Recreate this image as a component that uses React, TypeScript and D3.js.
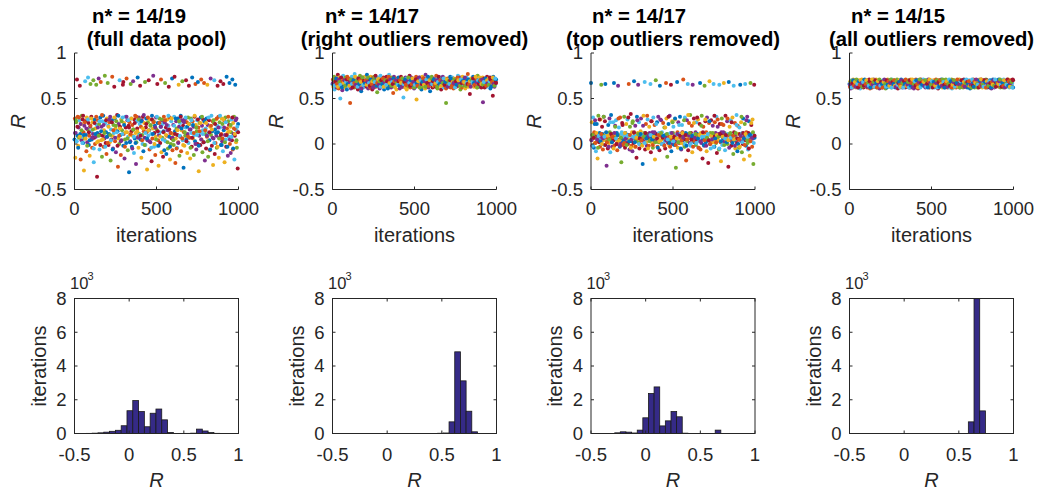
import React from "react";
import * as d3 from "d3";

const W = 1038;
const H = 494;
const COLORS = ["#0072BD", "#D95319", "#EDB120", "#7E2F8E", "#77AC30", "#4DBEEE", "#A2142F"];
const FONT = "'Liberation Sans', Arial, Helvetica, sans-serif";
const AX = "#262626";

const titleLine1 = ["n* = 14/19", "n* = 14/17", "n* = 14/17", "n* = 14/15"];
const titleLine2 = ["(full data pool)", "(right outliers removed)", "(top outliers removed)", "(all outliers removed)"];
const rTicks = [-0.5, 0, 0.5, 1];
const iterTicks = [0, 500, 1000];
const countTicks = [0, 2, 4, 6, 8]; // ×10^3

// Scatter: R × 100, sampled iterations in order (two sampling runs per panel)
const scatterFull = [
  5, 28, -15, 12, 24, 3, 71, 9, 30, -2, 18, 7, 26, 64, 11, -17, 22, 4, 31, 8,
  27, 1, 13, -29, 20, 6, 69, 25, 10, -8, 29, 2, 16, 73, 23, -1, 9, -13, 19, 66,
  14, 30, 5, -4, 24, 11, 70, -20, 7, 27, 0, 17, 8, 65, 21, -36, 12, 26, 3, 72,
  22, -6, 10, 29, 68, 4, 19, -14, 25, 9, 31, -3, 15, 6, 75, 23, 1, 13, -11, 28,
  8, 67, 20, -1, 11, 24, 2, 30, -18, 16, 5, 26, 74, 9, -5, 21, 12, 63, 28, 3,
  17, -9, 25, 7, 32, 14, -25, 6, 22, 0, 70, 19, 10, -12, 27, 4, 15, 29, 65, -2,
  11, 23, -16, 5, 30, 18, 1, 72, 13, 26, -7, 8, 20, -31, 24, 10, 3, 66, 28, 14,
  -3, 21, 9, 69, 16, -10, 27, 6, 31, 12, -22, 2, 25, 17, 73, 8, -4, 29, 11, 22,
  64, 5, 19, -15, 26, 10, 0, 30, -8, 14, 23, 7, 68, -1, 18, 28, 13, -28, 4, 24,
  9, 70, 15, -6, 27, 2, 21, 11, -19, 31, 6, 17, 75, 25, -3, 12, 20, -12, 8, 29,
  16, -2, 66, 23, 4, -24, 10, 28, 13, 1, 19, 71, -9, 26, 7, 22, -14, 14, 30, 5,
  24, 67, 3, 18, -11, 9, 27, 15, -5, 20, 63, 8, 29, -17, 12, 0, 25, 6, 72, -7,
  11, 21, -1, 30, 74, 14, -21, 6, 25, 17, -4, 10, 28, 2, 65, 19, -13, 23, 8, 31,
  -8, 15, 26, 69, 4, 20, -26, 13, -2, 27, 9, 18, 70, 5, 24, -10, 11, 29, 1, 64,
  22, 7, -16, 16, 28, 12, -3, 73, 25, 6, 19, -12, 10, 30, 3, 66, 21, -6, 14, 26,
  0, 68, 18, -30, 9, 23, 13, -1, 29, 71, 5, 20, -9, 15, 27, 2, 67, 24, -18, 11,
  17, -5, 28, 8, 65, 21, -14, 12, 26, 4, -7, 19, 72, 10, 31, -2, 14, 25, -23, 6,
  23, 70, -11, 16, 1, 27, 9, -4, 20, 64, 13, 30, -15, 7, 24, 18, 69, -1, 11, 28,
  3, 22, -8, 66, 15, 26, -20, 10, 29, 5, -3, 74, 17, 12, -13, 25, 8, 21, 67, 0,
  19, -10, 13, 27, 4, 71, -6, 23, 11, 30, -17, 9, 65, 16, 2, 28, -4, 14, -27, 22,
];
const scatterFull2 = [
  12, 26, 3, 19, -4, 29, 8, 22, 15, 1, 31, 10, 24, 6, 17, -2, 27, 13, 4, 20,
  28, 7, 16, -5, 23, 11, 30, 2, 18, 9, 25, -1, 14, 32, 5, 21, 12, -3, 26, 8,
  1, 19, 27, 10, 4, 24, -6, 15, 29, 7, 20, 13, -2, 31, 9, 17, 3, 25, 11, 68,
  21, -3, 13, 30, 6, 26, 18, 2, 11, 28, -5, 16, 8, 23, 1, 30, 14, 7, 27, 10,
  9, 25, 4, 17, 32, -1, 12, 22, 6, 29, 15, 3, 20, -4, 27, 11, 24, 0, 18, 5,
  30, 14, -2, 23, 8, 19, 27, 5, 13, -7, 26, 10, 21, 2, 31, 16, -3, 12, 28, 7,
  4, 20, 11, 28, -5, 15, 1, 25, 9, 30, 17, 6, -1, 24, 13, 29, 3, 19, 8, 22,
  16, -4, 26, 7, 21, 12, 31, 0, 18, 10, 27, -2, 14, 23, 5, 30, 11, 2, 25, 15,
  23, 9, 3, 29, 13, -6, 20, 16, 7, 26, 1, 22, 12, 28, -3, 18, 6, 31, 10, -1,
  6, 27, 18, 2, 24, 10, -3, 30, 14, 5, 21, 8, 29, -5, 17, 11, 26, 4, 19, 13,
];
const scatterRight = [
  66, 71, 63, 68, 74, 60, 69, 65, 72, 67, 62, 70, 64, 76, 68, 61, 73, 66, 69, 50,
  70, 64, 67, 72, 59, 68, 75, 63, 66, 71, 62, 69, 73, 65, 68, 60, 74, 67, 64, 70,
  63, 69, 66, 45, 72, 61, 68, 74, 65, 70, 64, 67, 71, 62, 77, 66, 69, 63, 73, 68,
  67, 72, 60, 65, 70, 68, 63, 75, 66, 71, 58, 69, 64, 73, 67, 62, 70, 65, 68, 74,
  65, 68, 71, 63, 76, 66, 69, 61, 72, 64, 70, 67, 62, 74, 68, 65, 71, 60, 66, 73,
  69, 62, 74, 67, 65, 71, 63, 68, 70, 57, 73, 66, 64, 69, 72, 61, 67, 75, 65, 70,
  71, 66, 64, 70, 68, 73, 60, 67, 65, 72, 69, 62, 74, 66, 71, 63, 68, 64, 76, 67,
  64, 70, 67, 62, 73, 65, 69, 71, 56, 68, 74, 63, 66, 70, 67, 72, 60, 69, 65, 71,
  68, 73, 65, 69, 61, 70, 66, 74, 64, 67, 72, 63, 69, 51, 71, 65, 68, 62, 73, 66,
  72, 65, 69, 64, 71, 67, 63, 70, 75, 66, 62, 68, 73, 65, 70, 67, 64, 72, 69, 61,
  66, 71, 68, 63, 74, 49, 69, 65, 70, 72, 64, 67, 62, 73, 68, 66, 71, 60, 69, 74,
  70, 63, 67, 72, 65, 69, 61, 76, 66, 70, 64, 68, 73, 67, 62, 71, 65, 69, 58, 72,
  65, 69, 74, 66, 62, 70, 68, 64, 72, 67, 71, 63, 69, 75, 65, 68, 61, 70, 66, 73,
  68, 64, 70, 67, 73, 60, 71, 65, 69, 74, 66, 62, 68, 70, 64, 72, 67, 45, 71, 65,
  63, 72, 66, 69, 65, 71, 67, 74, 62, 68, 70, 64, 73, 66, 69, 61, 72, 65, 68, 70,
  71, 67, 63, 70, 68, 66, 75, 64, 71, 65, 69, 73, 60, 67, 70, 66, 62, 74, 68, 64,
  66, 70, 72, 65, 61, 69, 67, 73, 64, 70, 77, 63, 68, 66, 71, 55, 69, 65, 72, 67,
  69, 65, 68, 74, 66, 63, 70, 67, 72, 64, 69, 71, 62, 68, 75, 66, 70, 63, 67, 73,
  64, 71, 67, 62, 70, 68, 73, 46, 69, 65, 72, 66, 70, 64, 68, 71, 63, 74, 67, 66,
  72, 66, 69, 65, 73, 61, 68, 70, 64, 71, 67, 53, 74, 66, 69, 63, 70, 65, 68, 71,
];
const scatterRight2 = [
  67, 70, 64, 69, 72, 66, 63, 71, 68, 65, 73, 62, 69, 67, 70, 64, 68, 71, 66, 72,
  64, 68, 71, 66, 62, 70, 67, 74, 65, 69, 63, 72, 66, 70, 68, 61, 73, 65, 69, 67,
  70, 65, 68, 73, 67, 64, 71, 66, 69, 62, 70, 68, 75, 64, 67, 71, 65, 69, 63, 70,
  66, 72, 63, 68, 70, 65, 69, 61, 74, 67, 71, 64, 68, 66, 72, 69, 63, 70, 67, 65,
  69, 64, 70, 67, 63, 72, 66, 68, 71, 65, 60, 69, 73, 67, 64, 70, 66, 72, 68, 62,
  65, 71, 67, 64, 69, 73, 62, 70, 66, 68, 72, 65, 69, 63, 71, 67, 74, 64, 70, 66,
  72, 66, 69, 71, 65, 67, 70, 63, 68, 74, 66, 70, 64, 69, 67, 72, 65, 68, 61, 71,
  63, 69, 66, 70, 72, 64, 68, 67, 71, 62, 69, 65, 73, 70, 66, 64, 71, 67, 69, 68,
  68, 73, 64, 67, 66, 71, 65, 69, 63, 70, 68, 72, 67, 65, 74, 68, 62, 70, 66, 69,
  70, 66, 71, 65, 68, 62, 72, 64, 70, 67, 65, 69, 71, 63, 68, 73, 66, 64, 72, 67,
];
const scatterTop = [
  67, 5, 24, -2, 10, 29, 7, -4, 13, 1, 26, 8, -8, 11, 22, 3, -16, 9, 31, 6,
  2, 12, -3, 27, 8, 65, 0, 19, 11, -6, 4, 30, 9, -1, 25, 66, 7, 12, -24, 3,
  10, -5, 21, 6, 1, 28, 13, -9, 5, 32, 8, 2, -3, 11, 24, 4, 67, -2, 9, 20,
  7, 26, 0, 12, -7, 3, 64, 10, 18, 5, -3, 29, 9, 1, -20, 13, 23, 6, -1, 11,
  4, 30, 8, -4, 12, 2, 22, 1, 6, 27, 0, 10, 66, 5, -6, 19, 9, 33, 3, -2,
  13, -8, 25, 7, 1, 69, 11, -3, 20, 4, 9, -15, 30, 6, 12, 65, 2, 24, -5, 8,
  0, 14, 28, -1, 10, 5, -22, 7, 31, 3, 12, 68, -6, 9, 22, 2, -2, 11, 27, 6,
  9, -2, 19, 12, 4, 66, -9, 8, 25, 1, 13, -4, 29, 5, 10, 21, -17, 3, 70, 7,
  11, 24, -3, 6, 30, 2, 12, -7, 64, 9, 4, 26, 0, 13, 0, 8, 23, 5, -1, 18,
  3, -5, 10, 67, 28, 7, -14, 11, 1, 22, 8, -2, 31, 4, 12, 65, -8, 6, 25, 0,
  12, 19, 5, -1, 9, 27, 3, -26, 10, 6, 68, 13, -4, 24, 2, 11, 1, 30, 7, 1,
  -6, 8, 21, 13, 4, 71, 0, 10, -3, 29, 5, 12, -18, 9, 26, 3, 66, -7, 11, 23,
  7, 1, 32, -2, 12, 6, 20, -9, 65, 4, 10, 28, 2, 3, 8, 13, -1, 24, 5, 11,
  10, 27, -4, 9, 3, 22, 67, -6, 12, 1, 31, 7, -16, 5, 19, 11, -2, 64, 8, 25,
  2, 13, -8, 29, 6, 10, -21, 4, 23, 69, 0, 12, -5, 26, 9, 3, 2, 20, 11, 66,
  8, -3, 24, 5, 12, 1, 30, -10, 7, 27, 4, 11, -6, 65, 22, 9, 2, -19, 13, 28,
  -1, 10, 6, 21, 67, 3, 12, -7, 31, 8, 4, 5, 25, 0, 11, -25, 68, 9, 19, 4,
  12, 26, -2, 7, 2, 29, 9, -11, 64, 13, 4, 23, -5, 10, 6, 32, 1, -8, 20, 11,
  5, -4, 18, 11, 65, 8, 24, 3, -9, 12, 0, 28, 7, -17, 10, 22, 66, 4, -2, 13,
  9, 30, 1, -6, 12, 25, 5, -13, 8, 67, 3, 21, 11, -3, 27, 6, -22, 10, 65, 7,
];
const scatterTop2 = [
  4, 10, -2, 7, 22, 1, 12, 5, -4, 9, 27, 3, 11, 0, 6, 30, 8, -1, 13, 2,
  9, -3, 5, 24, 11, 2, 8, -5, 12, 19, 6, 0, 10, 28, 4, -2, 7, 11, 21, 3,
  1, 12, 6, -1, 9, 29, 3, 10, -4, 5, 23, 8, 13, 2, -3, 7, 26, 11, 0, 6,
  11, 4, -2, 20, 8, 1, 12, 6, 31, -5, 9, 3, 10, 25, 5, -1, 8, 13, 2, 22,
  6, -4, 10, 3, 27, 12, 0, 7, 9, -2, 18, 4, 11, 5, 30, 1, -3, 8, 12, 24,
  3, 8, 28, -1, 6, 11, 2, 21, 9, -5, 4, 12, 7, 26, 0, 10, -2, 5, 32, 9,
  12, 0, 5, 9, -3, 23, 7, 11, 1, 29, 6, -4, 10, 3, 20, 8, 13, -1, 4, 27,
  -2, 7, 11, 4, 25, 0, 9, 5, 12, -3, 31, 6, 2, 10, 19, 8, -5, 11, 3, 22,
  8, 13, -1, 6, 10, 2, 28, 4, -4, 11, 7, 24, 1, 9, 5, -2, 12, 21, 6, 0,
  5, -3, 9, 30, 2, 12, 6, -1, 11, 26, 4, 8, -5, 10, 3, 23, 7, 13, 1, 9,
];
const scatterAll = [
  66, 63, 69, 61, 67, 70, 64, 68, 62, 71, 65, 67, 63, 69, 66, 70, 62, 68, 64, 65,
  68, 62, 65, 70, 63, 67, 61, 69, 66, 64, 71, 63, 68, 65, 62, 70, 67, 64, 69, 66,
  64, 69, 67, 62, 70, 65, 68, 63, 71, 66, 61, 69, 64, 67, 70, 62, 65, 68, 63, 71,
  70, 65, 63, 68, 64, 71, 66, 62, 67, 69, 63, 65, 70, 61, 68, 66, 64, 69, 62, 67,
  62, 67, 70, 65, 69, 63, 64, 70, 61, 68, 67, 62, 66, 71, 64, 69, 63, 65, 70, 68,
  67, 64, 62, 71, 66, 68, 69, 65, 63, 70, 64, 68, 62, 67, 65, 63, 71, 66, 61, 69,
  65, 70, 68, 63, 62, 66, 71, 64, 69, 62, 66, 70, 67, 64, 69, 68, 62, 70, 65, 63,
  69, 63, 66, 67, 70, 64, 62, 68, 65, 71, 62, 64, 69, 66, 63, 70, 67, 61, 68, 65,
  63, 68, 71, 64, 65, 69, 67, 61, 70, 63, 68, 66, 65, 62, 71, 64, 69, 67, 66, 70,
  71, 66, 64, 69, 68, 62, 65, 70, 64, 67, 69, 63, 71, 68, 66, 62, 65, 70, 63, 64,
  66, 62, 69, 65, 63, 70, 68, 66, 62, 69, 65, 71, 64, 63, 67, 69, 61, 66, 70, 68,
  64, 70, 63, 67, 71, 65, 62, 69, 67, 64, 70, 62, 68, 66, 64, 71, 68, 63, 65, 62,
  68, 65, 67, 62, 66, 64, 70, 63, 68, 71, 61, 67, 65, 70, 62, 65, 63, 69, 68, 66,
  62, 69, 64, 70, 68, 67, 63, 65, 71, 62, 66, 69, 63, 64, 68, 67, 70, 62, 64, 71,
  70, 63, 66, 68, 64, 71, 66, 62, 69, 65, 68, 64, 70, 67, 61, 69, 66, 65, 62, 67,
  65, 67, 71, 63, 69, 62, 68, 70, 64, 66, 63, 70, 62, 69, 65, 64, 68, 71, 67, 63,
  63, 71, 65, 66, 62, 69, 64, 67, 70, 68, 65, 62, 67, 71, 64, 70, 62, 66, 69, 65,
  69, 64, 62, 70, 65, 68, 61, 66, 63, 64, 71, 68, 66, 62, 70, 63, 67, 64, 65, 70,
  67, 66, 70, 64, 71, 63, 69, 65, 62, 70, 64, 67, 69, 65, 66, 62, 71, 68, 63, 64,
  64, 68, 63, 69, 66, 70, 65, 71, 67, 63, 62, 66, 64, 70, 68, 65, 63, 67, 71, 62,
];
const scatterAll2 = [
  65, 69, 62, 67, 70, 64, 68, 63, 71, 66, 62, 69, 65, 70, 67, 63, 68, 64, 71, 66,
  70, 63, 67, 64, 69, 62, 66, 71, 65, 68, 63, 70, 67, 62, 69, 65, 71, 64, 68, 66,
  62, 68, 71, 66, 63, 70, 65, 69, 64, 67, 71, 62, 68, 66, 70, 64, 63, 69, 65, 67,
  68, 65, 63, 70, 67, 62, 69, 66, 71, 64, 65, 68, 62, 70, 64, 67, 71, 63, 66, 69,
  64, 70, 66, 62, 68, 71, 63, 67, 65, 69, 68, 64, 70, 63, 66, 62, 69, 71, 67, 65,
  69, 62, 68, 65, 64, 67, 70, 62, 68, 63, 70, 66, 64, 71, 68, 65, 62, 67, 69, 63,
  66, 71, 64, 69, 62, 65, 68, 70, 63, 66, 67, 71, 63, 65, 62, 69, 70, 66, 64, 68,
  63, 67, 70, 68, 66, 69, 64, 65, 62, 71, 64, 63, 69, 67, 71, 66, 65, 62, 70, 64,
  71, 64, 65, 63, 70, 68, 62, 69, 66, 64, 69, 67, 62, 68, 65, 70, 64, 71, 63, 67,
  67, 66, 69, 71, 65, 63, 67, 64, 70, 62, 66, 65, 71, 64, 69, 63, 67, 68, 62, 70,
];

// Histograms: bin left edges (R), counts (iterations), bin width (R)
const histFullEdges = [-0.391, -0.338, -0.285, -0.232, -0.179, -0.126, -0.073, -0.02, 0.033, 0.086, 0.139, 0.192, 0.245, 0.298, 0.351, 0.51, 0.563, 0.616, 0.669, 0.722, 0.775];
const histFullCounts = [8, 20, 40, 80, 130, 190, 460, 1350, 1950, 1300, 400, 1200, 1450, 810, 60, 8, 20, 260, 150, 55, 10];
const histFullWidth = 0.053;
const histRightEdges = [0.462, 0.514, 0.566, 0.618, 0.67, 0.722, 0.774];
const histRightCounts = [15, 30, 690, 4840, 3120, 1320, 100];
const histRightWidth = 0.052;
const histTopEdges = [-0.283, -0.232, -0.18, -0.129, -0.077, -0.026, 0.026, 0.077, 0.129, 0.18, 0.232, 0.283, 0.335, 0.636];
const histTopCounts = [40, 100, 80, 30, 200, 930, 2370, 2760, 450, 750, 1300, 990, 20, 200];
const histTopWidth = 0.0515;
const histAllEdges = [0.587, 0.639, 0.691];
const histAllCounts = [690, 7990, 1340];
const histAllWidth = 0.052;

const scatters = [
  [scatterFull, scatterFull2],
  [scatterRight, scatterRight2],
  [scatterTop, scatterTop2],
  [scatterAll, scatterAll2],
];
const hists = [
  { edges: histFullEdges, counts: histFullCounts, width: histFullWidth },
  { edges: histRightEdges, counts: histRightCounts, width: histRightWidth },
  { edges: histTopEdges, counts: histTopCounts, width: histTopWidth },
  { edges: histAllEdges, counts: histAllCounts, width: histAllWidth },
];

const LEFTS = [74.5, 332.5, 591, 849.5];
const AW = 164;
const TITLE1_X = [92, 325, 592, 851];
const TOP_Y0 = 53, TOP_Y1 = 189.5;
const BOT_Y0 = 298.5, BOT_Y1 = 433.5;
const TICK = 3;
const fmt = (v: number) => (v === 0 ? "0" : String(v));

function ScatterPanel({ k }: { k: number }) {
  const left = LEFTS[k];
  const x = d3.scaleLinear().domain([0, 1000]).range([left, left + AW]);
  const y = d3.scaleLinear().domain([-0.5, 1]).range([TOP_Y1, TOP_Y0]);
  const cx = left + AW / 2;
  return (
    <g>
      <text x={TITLE1_X[k]} y={22.5} fontFamily={FONT} fontSize={20.3} fontWeight="bold" fill="#000">{titleLine1[k]}</text>
      <text x={cx} y={46} textAnchor="middle" fontFamily={FONT} fontSize={20.3} fontWeight="bold" fill="#000">{titleLine2[k]}</text>
      {scatters[k].map((vals, s) => {
        const n = vals.length;
        const off = s === 0 ? 0 : 0.5;
        return (
          <g key={s}>
            {vals.map((v, i) => (
              <circle key={i} cx={x(((i + off) * 1000) / n)} cy={y(v / 100)} r={2}
                fill={COLORS[(i + s * 3) % COLORS.length]} />
            ))}
          </g>
        );
      })}
      <line x1={left} x2={left} y1={TOP_Y0} y2={TOP_Y1} stroke={AX} strokeWidth={1} />
      <line x1={left} x2={left + AW} y1={TOP_Y1} y2={TOP_Y1} stroke={AX} strokeWidth={1} />
      {rTicks.map((t) => (
        <g key={"y" + t}>
          <line x1={left} x2={left + TICK} y1={y(t)} y2={y(t)} stroke={AX} />
          <text x={left - 8} y={y(t)} dy="0.35em" textAnchor="end" fontFamily={FONT} fontSize={18.5} fill={AX}>{fmt(t)}</text>
        </g>
      ))}
      {iterTicks.map((t) => (
        <g key={"x" + t}>
          <line x1={x(t)} x2={x(t)} y1={TOP_Y1} y2={TOP_Y1 - TICK} stroke={AX} />
          <text x={x(t)} y={215} textAnchor="middle" fontFamily={FONT} fontSize={18.5} fill={AX}>{t}</text>
        </g>
      ))}
      <text x={cx} y={241.5} textAnchor="middle" fontFamily={FONT} fontSize={20} fill={AX}>iterations</text>
      <text transform={`translate(${left - 50},${(TOP_Y0 + TOP_Y1) / 2}) rotate(-90)`} textAnchor="middle" fontFamily={FONT} fontSize={20} fontStyle="italic" fill={AX}>R</text>
    </g>
  );
}

function HistPanel({ k }: { k: number }) {
  const left = LEFTS[k];
  const x = d3.scaleLinear().domain([-0.5, 1]).range([left, left + AW]);
  const y = d3.scaleLinear().domain([0, 8000]).range([BOT_Y1, BOT_Y0]);
  const h = hists[k];
  const cx = left + AW / 2;
  const clipId = "clip" + k;
  return (
    <g>
      <defs>
        <clipPath id={clipId}>
          <rect x={left} y={BOT_Y0} width={AW} height={BOT_Y1 - BOT_Y0} />
        </clipPath>
      </defs>
      <g clipPath={`url(#${clipId})`}>
        {h.edges.map((e, i) => (
          <rect key={i} x={x(e)} width={x(e + h.width) - x(e)} y={y(h.counts[i])} height={y(0) - y(h.counts[i])}
            fill="#352A87" stroke="#1a1a1a" strokeWidth={0.8} />
        ))}
      </g>
      <rect x={left} y={BOT_Y0} width={AW} height={BOT_Y1 - BOT_Y0} fill="none" stroke={AX} strokeWidth={1} />
      {countTicks.map((t) => (
        <g key={"y" + t}>
          <line x1={left} x2={left + TICK} y1={y(t * 1000)} y2={y(t * 1000)} stroke={AX} />
          <line x1={left + AW} x2={left + AW - TICK} y1={y(t * 1000)} y2={y(t * 1000)} stroke={AX} />
          <text x={left - 8} y={y(t * 1000)} dy="0.35em" textAnchor="end" fontFamily={FONT} fontSize={18.5} fill={AX}>{t}</text>
        </g>
      ))}
      {rTicks.map((t) => (
        <g key={"x" + t}>
          <line x1={x(t)} x2={x(t)} y1={BOT_Y1} y2={BOT_Y1 - TICK} stroke={AX} />
          <line x1={x(t)} x2={x(t)} y1={BOT_Y0} y2={BOT_Y0 + TICK} stroke={AX} />
          <text x={x(t)} y={460.5} textAnchor="middle" fontFamily={FONT} fontSize={18.5} fill={AX}>{fmt(t)}</text>
        </g>
      ))}
      <text x={left - 4.5} y={288.5} fontFamily={FONT} fontSize={16.5} fill={AX}>10</text>
      <text x={left + 13} y={279.5} fontFamily={FONT} fontSize={11} fill={AX}>3</text>
      <text x={cx} y={487} textAnchor="middle" fontFamily={FONT} fontSize={20} fontStyle="italic" fill={AX}>R</text>
      <text transform={`translate(${left - 29},${(BOT_Y0 + BOT_Y1) / 2}) rotate(-90)`} textAnchor="middle" fontFamily={FONT} fontSize={20} fill={AX}>iterations</text>
    </g>
  );
}

export default function App() {
  return (
    <svg width={W} height={H} viewBox={`0 0 ${W} ${H}`} style={{ position: "absolute", left: 0, top: 0, display: "block", background: "#fff" }}>
      <rect width={W} height={H} fill="#fff" />
      {[0, 1, 2, 3].map((k) => (
        <g key={k}>
          <ScatterPanel k={k} />
          <HistPanel k={k} />
        </g>
      ))}
    </svg>
  );
}
